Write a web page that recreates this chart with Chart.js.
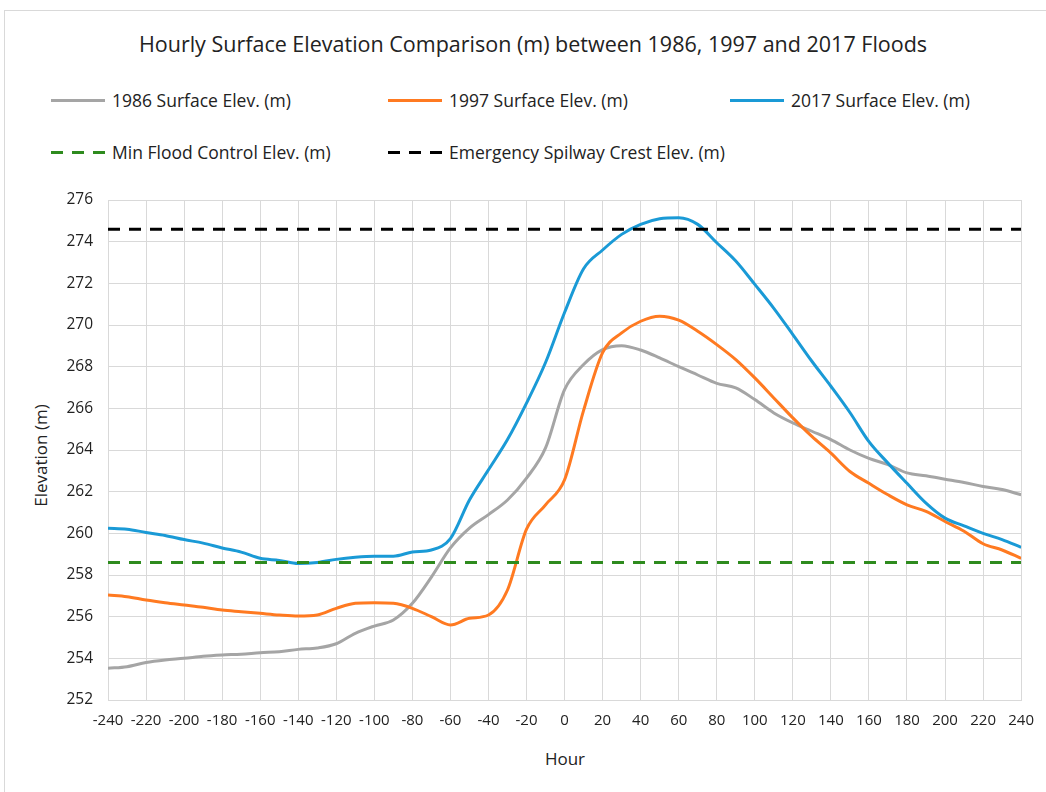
<!DOCTYPE html>
<html>
<head>
<meta charset="utf-8">
<script src="https://cdn.jsdelivr.net/npm/chart.js@4/dist/chart.umd.min.js"></script>
<style>
    body { margin: 0; background: #fff; font-family: 'Open Sans', sans-serif; color: #222; }
    #frame { position: absolute; left: 4px; top: 10px; width: 1100px; height: 900px; border: 1px solid #d9d9d9; }
    #title { position: absolute; left: 0; width: 1066px; top: 29px; text-align: center; font-size: 21.5px; }
    .legend-item { position: absolute; font-size: 17.5px; display: flex; align-items: center; }
    .legend-item span.swatch { display: inline-block; width: 54px; height: 3px; margin-right: 7px; }
    #xTitle { position: absolute; top: 747px; left: 530px; width: 70px; text-align: center; font-size: 17px; }
    #yTitle { position: absolute; top: 444px; left: -25px; width: 130px; text-align: center; font-size: 17px; transform: rotate(-90deg); }
    canvas { position: absolute; left: 0; top: 0; }
</style>
</head>
<body>
<div id="frame"></div>
<div id="title">Hourly Surface Elevation Comparison (m) between 1986, 1997 and 2017 Floods</div>
<div id="legend"></div>
<div id="yTitle">Elevation (m)</div>
<div id="xTitle">Hour</div>
<canvas id="floodChart" width="1046" height="792"></canvas>
<script>
// Hours relative to the peak
const hours = [-240, -230, -220, -210, -200, -190, -180, -170, -160, -150, -140, -130, -120, -110, -100, -90, -80, -70, -60, -50, -40, -30, -20, -10,
    0, 10, 20, 30, 40, 50, 60, 70, 80, 90, 100, 110, 120, 130, 140, 150, 160, 170, 180, 190, 200, 210, 220, 230, 240];

const elev1986 = [253.52, 253.6, 253.8, 253.92, 254.0, 254.1, 254.16, 254.2, 254.27, 254.32, 254.43, 254.5, 254.7, 255.2, 255.55, 255.84, 256.64, 257.9, 259.3, 260.25, 260.9, 261.6, 262.65, 264.1,
    266.9, 268.1, 268.82, 269.01, 268.8, 268.42, 268.0, 267.6, 267.2, 266.98, 266.42, 265.78, 265.3, 264.9, 264.5, 264.0, 263.6, 263.3, 262.9, 262.76, 262.6, 262.44, 262.25, 262.1, 261.85];

const elev1997 = [257.04, 256.96, 256.8, 256.67, 256.56, 256.45, 256.32, 256.24, 256.16, 256.08, 256.03, 256.08, 256.4, 256.64, 256.67, 256.64, 256.4, 256.0, 255.6, 255.92, 256.08, 257.28, 260.2, 261.37,
    262.57, 265.9, 268.67, 269.62, 270.18, 270.42, 270.23, 269.7, 269.06, 268.34, 267.46, 266.5, 265.54, 264.65, 263.85, 262.97, 262.4, 261.85, 261.37, 261.05, 260.57, 260.1, 259.5, 259.2, 258.8];

const elev2017 = [260.25, 260.2, 260.04, 259.9, 259.7, 259.53, 259.3, 259.1, 258.8, 258.7, 258.55, 258.6, 258.75, 258.85, 258.9, 258.9, 259.1, 259.2, 259.75, 261.6, 263.05, 264.5, 266.25, 268.2,
    270.6, 272.7, 273.6, 274.35, 274.83, 275.1, 275.15, 274.83, 273.95, 273.07, 271.95, 270.8, 269.54, 268.26, 267.06, 265.8, 264.4, 263.37, 262.4, 261.45, 260.73, 260.36, 260.0, 259.7, 259.33];

const minFloodControl = 258.6;
const spillwayCrest = 274.6;

const yTicks = [252, 254, 256, 258, 260, 262, 264, 266, 268, 270, 272, 274, 276];

function toPoints(values) {
    return hours.map((h, i) => ({ x: h, y: values[i] }));
}

function flatLine(value) {
    return [{ x: hours[0], y: value }, { x: hours[hours.length - 1], y: value }];
}

const datasets = [
    { label: '1986 Surface Elev. (m)', data: toPoints(elev1986), borderColor: '#a5a5a5', order: 3 },
    { label: '1997 Surface Elev. (m)', data: toPoints(elev1997), borderColor: '#ff7a21', order: 2 },
    { label: '2017 Surface Elev. (m)', data: toPoints(elev2017), borderColor: '#1a9ad6', order: 1 },
    { label: 'Min Flood Control Elev. (m)', data: flatLine(minFloodControl), borderColor: '#2e8b1e', borderDash: [12, 9], order: 0 },
    { label: 'Emergency Spilway Crest Elev. (m)', data: flatLine(spillwayCrest), borderColor: '#000000', borderDash: [12, 9], order: 0 }
];

// legend placed like the original grid (3 + 2 items)
const legendPos = [[51, 88], [388, 88], [730, 88], [51, 140], [388, 140]];
const legendEl = document.getElementById('legend');
datasets.forEach((ds, i) => {
    const item = document.createElement('div');
    item.className = 'legend-item';
    item.style.left = legendPos[i][0] + 'px';
    item.style.top = legendPos[i][1] + 'px';
    const bg = ds.borderDash
        ? 'repeating-linear-gradient(90deg,' + ds.borderColor + ' 0 12px, transparent 12px 21px)'
        : ds.borderColor;
    item.innerHTML = '<span class="swatch" style="background:' + bg + '"></span>' + ds.label;
    legendEl.appendChild(item);
});

const ctx = document.getElementById('floodChart').getContext('2d');
new Chart(ctx, {
    type: 'line',
    data: {
        datasets: datasets.map(ds => Object.assign({
            borderWidth: 3,
            pointRadius: 0,
            fill: false,
            cubicInterpolationMode: 'monotone'
        }, ds))
    },
    options: {
        responsive: false,
        animation: false,
        layout: { padding: { top: 200, right: 23, left: 0, bottom: 0 } },
        plugins: {
            legend: { display: false },
            tooltip: { enabled: false }
        },
        scales: {
            x: {
                type: 'linear',
                min: -240,
                max: 240,
                afterFit: scale => { scale.height = 92; },
                grid: { color: '#d9d9d9', drawTicks: false },
                border: { color: '#d9d9d9' },
                ticks: { stepSize: 20, padding: 12, color: '#222', font: { family: 'Open Sans', size: 15 }, maxRotation: 0, autoSkip: false }
            },
            y: {
                min: yTicks[0],
                max: yTicks[yTicks.length - 1],
                afterFit: scale => { scale.width = 108; },
                afterBuildTicks: scale => { scale.ticks = yTicks.map(v => ({ value: v })); },
                grid: { color: '#d9d9d9', drawTicks: false },
                border: { color: '#d9d9d9' },
                ticks: { padding: 15, color: '#222', font: { family: 'Open Sans', size: 15.5 } }
            }
        }
    }
});
</script>
</body>
</html>
